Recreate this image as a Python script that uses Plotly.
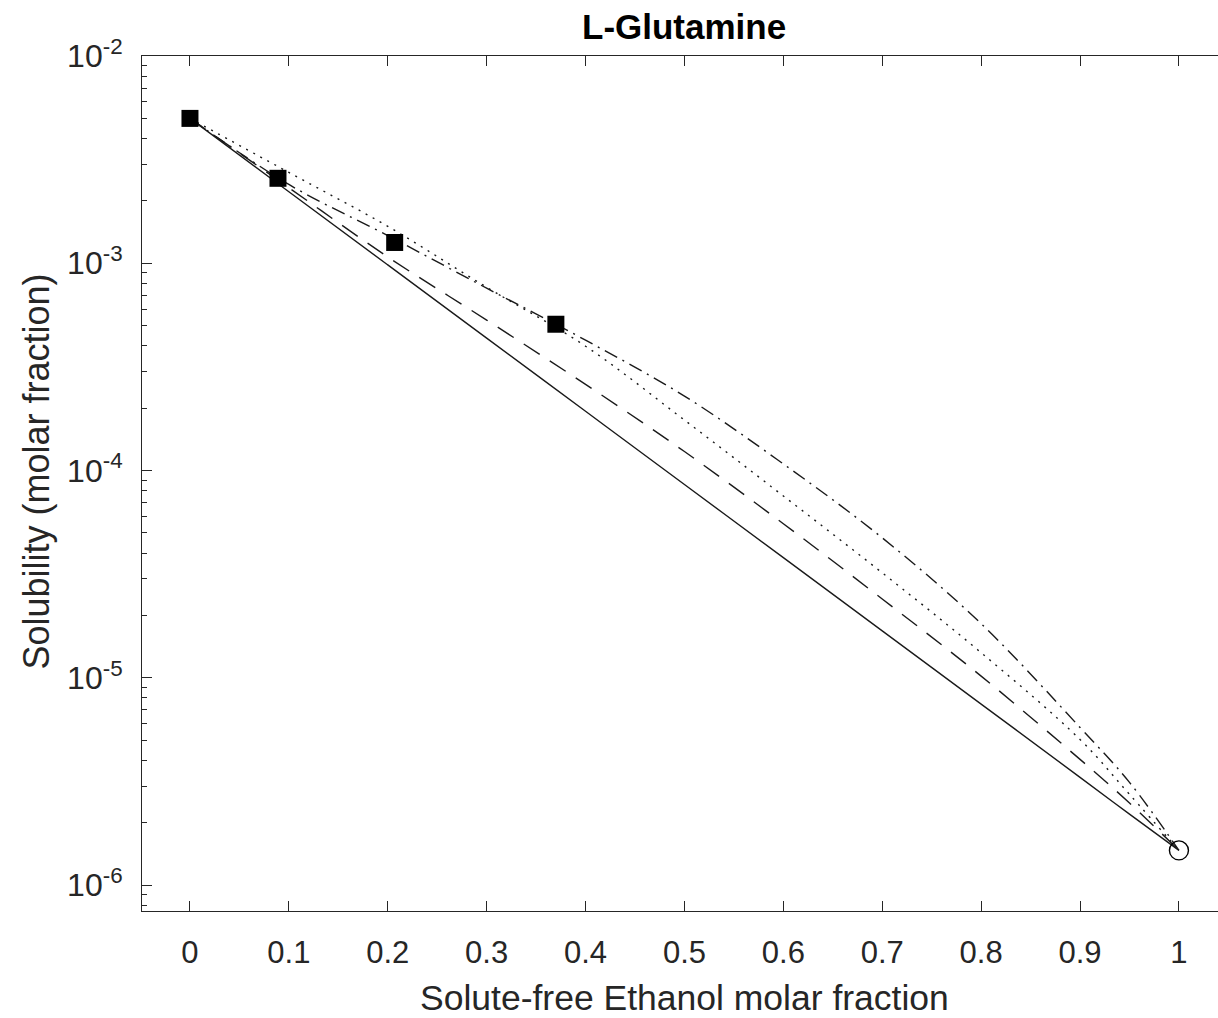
import plotly.graph_objects as go

# ---- data ----
x_model = [0.0, 0.1, 0.2, 0.3, 0.4, 0.5, 0.6, 0.7, 0.8, 0.9, 0.95, 1.0]
y_solid = [5.0e-3, 2.215e-3, 9.82e-4, 4.355e-4, 1.931e-4, 8.56e-5, 3.80e-5, 1.684e-5, 7.47e-6, 3.31e-6, 2.20e-6, 1.47e-6]
y_dashed = [5.0e-3, 2.315e-3, 1.073e-3, 5.32e-4, 2.605e-4, 1.235e-4, 5.54e-5, 2.40e-5, 1.019e-5, 4.04e-6, 2.49e-6, 1.47e-6]
y_dotted = [5.0e-3, 2.743e-3, 1.507e-3, 7.66e-4, 3.98e-4, 1.752e-4, 7.54e-5, 3.21e-5, 1.322e-5, 5.04e-6, 2.74e-6, 1.47e-6]
y_dashdot = [5.0e-3, 2.40e-3, 1.36e-3, 7.58e-4, 4.257e-4, 2.287e-4, 1.076e-4, 4.735e-5, 1.824e-5, 5.76e-6, 3.13e-6, 1.47e-6]

x_exp = [0.0, 0.089, 0.207, 0.370]
y_exp = [5.0e-3, 2.57e-3, 1.26e-3, 5.08e-4]

x_pure = [1.0]
y_pure = [1.47e-6]

x_ticks = [0, 0.1, 0.2, 0.3, 0.4, 0.5, 0.6, 0.7, 0.8, 0.9, 1]
x_ticklabels = ["0", "0.1", "0.2", "0.3", "0.4", "0.5", "0.6", "0.7", "0.8", "0.9", "1"]
y_ticks = [1e-6, 1e-5, 1e-4, 1e-3, 1e-2]
y_ticklabels = ["10<sup>-6</sup>", "10<sup>-5</sup>", "10<sup>-4</sup>", "10<sup>-3</sup>", "10<sup>-2</sup>"]

title_text = "L-Glutamine"
x_title = "Solute-free Ethanol molar fraction"
y_title = "Solubility (molar fraction)"

# ---- figure ----
AX = "#262626"
FONT = "Liberation Sans, Arial, Helvetica, sans-serif"

fig = go.Figure()

line_specs = [
    (y_solid, "solid"),
    (y_dashed, "19px,12px"),
    (y_dotted, "2px,6px"),
    (y_dashdot, "14px,6px,2px,6px"),
]
for ys, dash in line_specs:
    fig.add_trace(go.Scatter(
        x=x_model, y=ys, mode="lines",
        line=dict(color="#1a1a1a", width=1.4, dash=dash, shape="spline", smoothing=1.0),
        showlegend=False, hoverinfo="skip"))

fig.add_trace(go.Scatter(
    x=x_exp, y=y_exp, mode="markers",
    marker=dict(symbol="square", size=17, color="black", line=dict(width=0)),
    showlegend=False))
fig.add_trace(go.Scatter(
    x=x_pure, y=y_pure, mode="markers",
    marker=dict(symbol="circle-open", size=19, color="black", line=dict(width=1.4)),
    showlegend=False))

minor_vals = [m * 10.0 ** e for e in range(-7, -2) for m in range(2, 10)]

fig.update_layout(
    width=1218, height=1018,
    margin=dict(l=142, r=0, t=56, b=107),
    paper_bgcolor="white", plot_bgcolor="white",
    font=dict(family=FONT, color=AX, size=31),
    xaxis=dict(
        range=[-0.0485, 1.0395],
        tickmode="array", tickvals=x_ticks, ticktext=x_ticklabels,
        ticks="inside", ticklen=10, tickwidth=1, tickcolor=AX,
        showline=True, linecolor=AX, linewidth=1, mirror="ticks",
        showgrid=False, zeroline=False,
        tickfont=dict(size=31, color=AX), ticklabelstandoff=14,
    ),
    yaxis=dict(
        type="log", range=[-6.125, -2],
        tickmode="array", tickvals=y_ticks, ticktext=y_ticklabels,
        ticks="inside", ticklen=10, tickwidth=1, tickcolor=AX,
        minor=dict(tickmode="array", tickvals=minor_vals, ticks="inside",
                   ticklen=5, tickwidth=1, tickcolor=AX, showgrid=False),
        showline=True, linecolor=AX, linewidth=1, mirror=False,
        showgrid=False, zeroline=False,
        tickfont=dict(size=32, color=AX), ticklabelstandoff=12,
    ),
    annotations=[
        dict(text="<b>%s</b>" % title_text, x=0.5, xref="x", y=1.035, yref="paper",
             xanchor="center", yanchor="middle", showarrow=False,
             font=dict(size=35, color="black", family=FONT)),
        dict(text=x_title, x=0.5, xref="x", y=-0.102, yref="paper",
             xanchor="center", yanchor="middle", showarrow=False,
             font=dict(size=35.5, color=AX, family=FONT)),
        dict(text=y_title, x=-0.0976, xref="paper", y=0.514, yref="paper",
             xanchor="center", yanchor="middle", textangle=-90, showarrow=False,
             font=dict(size=36, color=AX, family=FONT)),
    ],
)

fig.write_html("out.html")
